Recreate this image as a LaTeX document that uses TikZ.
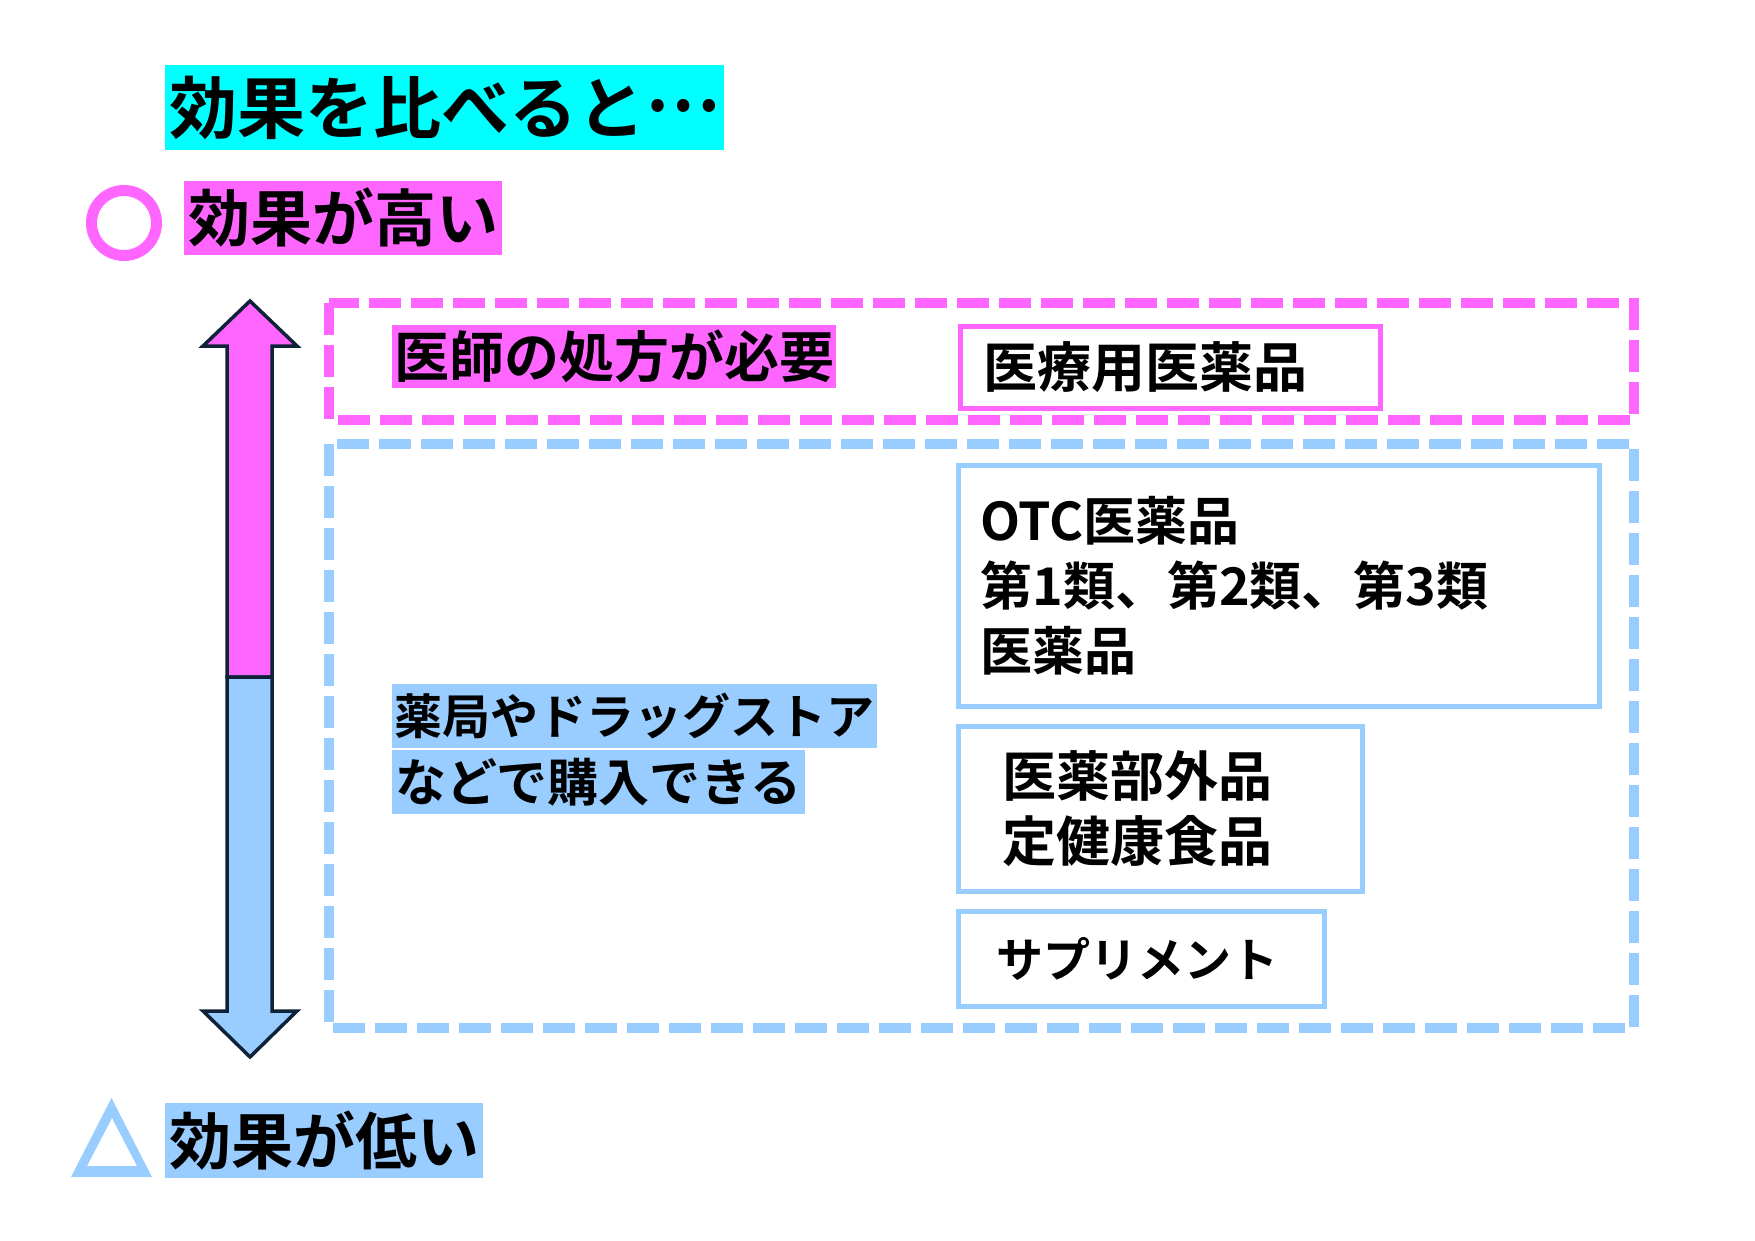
\documentclass[tikz,border=0pt]{standalone}
\usepackage{fontspec}
\newfontfamily\jp{Noto Sans CJK JP Bold}
\definecolor{cyanbg}{HTML}{00FFFF}
\definecolor{pinkc}{HTML}{FF66FF}
\definecolor{bluec}{HTML}{99CCFF}
\definecolor{navy}{HTML}{0F2237}
\newcommand{\fs}[1]{\jp\fontsize{#1}{#1}\selectfont}
\begin{document}
\begin{tikzpicture}[x=1pt,y=-1pt,
  lab/.style={anchor=west, inner ysep=0pt, text=black},
  ibox/.style={draw, line width=5pt, anchor=north west, align=left, inner ysep=0pt, text=black},
  dashbox/.style={line width=10pt, dash pattern=on 32pt off 10pt},
  arrowpart/.style={draw=navy, line width=3.5pt, line join=miter}]
\fill[white] (0,0) rectangle (1755,1241);
\useasboundingbox (0,0) rectangle (1755,1241);

% title
\node[lab, fill=cyanbg, font=\fs{68}, inner xsep=4pt, minimum height=85pt] (title) at (165,107.5) {効果を比べると\raisebox{0.32em}{…}};

% high
\draw[pinkc, line width=11pt] (124,223) circle[radius=32.5pt];
\node[lab, fill=pinkc, font=\fs{62}, inner xsep=4pt, minimum height=74pt] (high) at (184,218) {効果が高い};

% low
\fill[bluec, even odd rule] (71,1177) -- (152,1177) -- (111.5,1098) -- cycle
   (87,1166) -- (137,1166) -- (112,1118) -- cycle;
\node[lab, fill=bluec, font=\fs{62}, inner xsep=4pt, minimum height=75pt] (low) at (165,1140.5) {効果が低い};

% arrow
\filldraw[arrowpart, fill=pinkc] (227,677) -- (227,346) -- (203,346) -- (250,301) -- (297,346) -- (272,346) -- (272,677) -- cycle;
\filldraw[arrowpart, fill=bluec] (227,677) -- (227,1011) -- (203,1011) -- (250,1057) -- (297,1011) -- (272,1011) -- (272,677) -- cycle;

% dashed groups
\draw[dashbox, pinkc] (329,303) rectangle (1634,420);
\draw[dashbox, bluec] (329,444) rectangle (1634,1028);

% group labels
\node[lab, fill=pinkc, font=\fs{55}, inner xsep=2pt, minimum height=63pt] (doc) at (392,356.5) {医師の処方が必要};
\node[lab, fill=bluec, font=\fs{48}, inner xsep=2.5pt, minimum height=64pt] (buy1) at (392,716) {薬局やドラッグストア};
\node[lab, fill=bluec, font=\fs{51}, inner xsep=3.5pt, minimum height=64pt] (buy2) at (392,782) {などで購入できる};

% item boxes
\node[ibox, draw=pinkc, font=\fs{54}, inner xsep=23.5pt, text width=373pt, minimum height=82pt] (rx) at (957.5,323.5) {\raisebox{3pt}{医療用医薬品}};
\node[ibox, draw=bluec, font=\jp\fontsize{52}{65}\selectfont, inner xsep=22.5pt, text width=596pt, minimum height=241pt] (otc) at (955.5,462.5) {OTC医薬品\\第1類、第2類、第3類\\医薬品};
\node[ibox, draw=bluec, font=\jp\fontsize{54}{65.5}\selectfont, inner xsep=44.5pt, text width=315pt, minimum height=165pt] (quasi) at (955.5,723.5) {医薬部外品\\定健康食品};
\node[ibox, draw=bluec, font=\fs{47}, inner xsep=38.5pt, text width=289pt, minimum height=95pt] (supp) at (955.5,908.5) {サプリメント};
\end{tikzpicture}
\end{document}
